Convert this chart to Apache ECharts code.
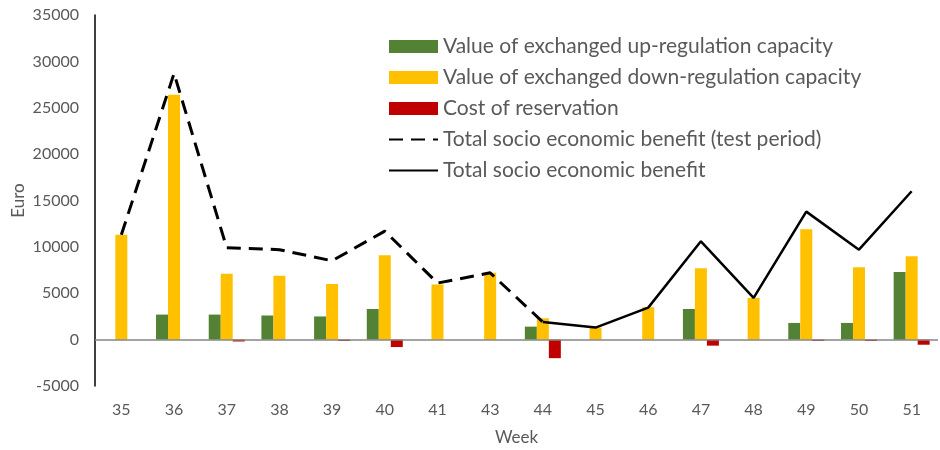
<!DOCTYPE html>
<html>
<head>
<meta charset="utf-8">
<script src="https://cdn.jsdelivr.net/npm/echarts@6/dist/echarts.min.js"></script>
<style>
  body { margin: 0; background: #fff; }
  #chart { width: 940px; height: 450px; }
</style>
</head>
<body>
<div id="chart"></div>
<script>
// weeks (42 is missing in the source)
var weeks = ['35', '36', '37', '38', '39', '40', '41', '43', '44', '45', '46', '47', '48', '49', '50', '51'];
var upValue = [0, 2700, 2700, 2600, 2500, 3300, 0, 0, 1400, 0, 0, 3300, 0, 1800, 1800, 7300];
var downValue = [11300, 26400, 7100, 6900, 6000, 9100, 5950, 7200, 2300, 1300, 3500, 7700, 4500, 11900, 7800, 9000];
var reservationCost = [0, 0, -200, 0, -150, -800, 0, 0, -2000, 0, 0, -650, 0, -150, -150, -550];
var benefitTest = [11300, 28700, 9900, 9700, 8500, 11700, 6100, 7200, 1900, null, null, null, null, null, null, null];
var benefit = [null, null, null, null, null, null, null, null, 1900, 1300, 3450, 10600, 4500, 13800, 9700, 16000];
var yTicks = { min: -5000, max: 35000, step: 5000 };

var txt = '#595959';
var font = 'Lato';
var noSymbol = { color: 'transparent', borderWidth: 0, opacity: 0 };

var myChart = echarts.init(document.getElementById('chart'));
var option = {
    animation: false,
    textStyle: { fontFamily: font },
    grid: { left: 95, right: 2, top: 15, bottom: 64, outerBoundsMode: 'none' },
    legend: {
        orient: 'vertical',
        left: 388,
        top: 36,
        padding: 0,
        itemWidth: 49,
        itemHeight: 13,
        itemGap: 10,
        textStyle: { color: txt, fontSize: 21, fontFamily: font },
        data: [
            { name: 'Value of exchanged up-regulation capacity', icon: 'rect' },
            { name: 'Value of exchanged down-regulation capacity', icon: 'rect' },
            { name: 'Cost of reservation', icon: 'rect' },
            { name: 'Total socio economic benefit (test period)', itemStyle: noSymbol },
            { name: 'Total socio economic benefit', itemStyle: noSymbol }
        ]
    },
    xAxis: {
        type: 'category',
        data: weeks,
        name: 'Week',
        nameLocation: 'middle',
        nameGap: 43,
        nameTextStyle: { color: txt, fontSize: 17 },
        axisLine: { show: false, onZero: false },
        axisTick: { show: false },
        axisLabel: { color: txt, fontSize: 16, margin: 16 }
    },
    yAxis: {
        type: 'value',
        min: yTicks.min,
        max: yTicks.max,
        interval: yTicks.step,
        name: 'Euro',
        nameLocation: 'middle',
        nameGap: 68,
        nameMoveOverlap: false,
        nameTextStyle: { color: txt, fontSize: 17 },
        axisLine: { show: true, lineStyle: { color: '#000', width: 1.5 } },
        axisTick: { show: false },
        splitLine: { show: false },
        axisLabel: {
            color: txt, fontSize: 16, margin: 16,
            formatter: function (v) { return String(v); }
        }
    },
    series: [
        {
            name: 'Value of exchanged up-regulation capacity',
            type: 'bar',
            data: upValue,
            barWidth: 12,
            barGap: '0%',
            itemStyle: { color: '#548235' },
            markLine: {
                silent: true,
                symbol: 'none',
                label: { show: false },
                lineStyle: { color: '#868686', type: 'solid', width: 1.5 },
                data: [{ yAxis: 0 }]
            }
        },
        {
            name: 'Value of exchanged down-regulation capacity',
            type: 'bar',
            data: downValue,
            barWidth: 12,
            barGap: '0%',
            itemStyle: { color: '#FFC000' }
        },
        {
            name: 'Cost of reservation',
            type: 'bar',
            data: reservationCost,
            barWidth: 12,
            barGap: '0%',
            itemStyle: { color: '#C00000' }
        },
        {
            name: 'Total socio economic benefit (test period)',
            type: 'line',
            data: benefitTest,
            symbol: 'none',
            lineStyle: { color: '#000', width: 3, type: [14, 8] },
            itemStyle: { color: '#000' }
        },
        {
            name: 'Total socio economic benefit',
            type: 'line',
            data: benefit,
            symbol: 'none',
            lineStyle: { color: '#000', width: 2.5 },
            itemStyle: { color: '#000' }
        }
    ]
};
myChart.setOption(option);
</script>
</body>
</html>
